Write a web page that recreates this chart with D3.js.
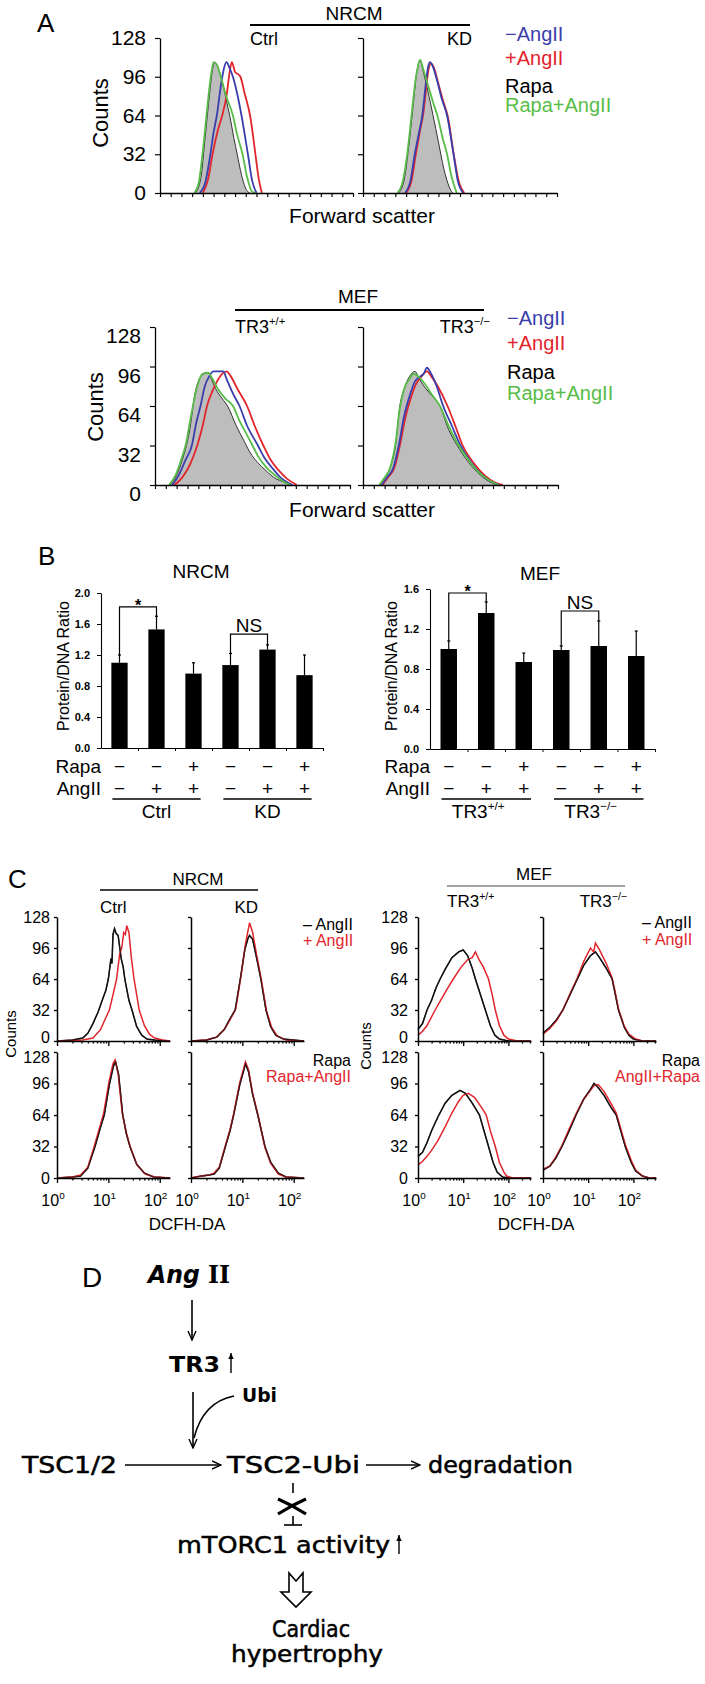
<!DOCTYPE html>
<html><head><meta charset="utf-8">
<script src="https://cdn.jsdelivr.net/npm/d3@7/dist/d3.min.js"></script>
<style>html,body{margin:0;padding:0;background:#fff;}svg{display:block;}</style>
</head><body>
<svg id="fig" width="705" height="1684"></svg>
<script>
// ================= DATA =================
// ---- Panel A: forward-scatter histograms (x = channel units 0..18, y = counts) ----
const countTicks = [0, 32, 64, 96, 128];
const aLegend = ["\u2212AngII", "+AngII", "Rapa", "Rapa+AngII"];

const aNrcmCtrlMinus = [[3.7,0],[4.2,8],[4.7,32],[5.0,50],[5.3,64],[5.7,90],[6.0,104],[6.2,108],[6.5,103],[6.8,96],[7.2,82],[7.6,64],[8.2,32],[8.6,10],[9.0,0]];
const aNrcmCtrlPlus = [[4.0,0],[4.5,12],[4.9,32],[5.4,52],[5.8,64],[6.2,80],[6.5,100],[6.7,108],[7.0,100],[7.3,98],[7.5,96],[7.9,82],[8.4,64],[8.9,32],[9.2,12],[9.5,0]];
const aNrcmCtrlRapa = [[3.3,0],[3.8,12],[4.2,45],[4.6,80],[4.9,102],[5.1,108],[5.4,104],[5.8,92],[6.2,76],[6.5,64],[6.9,45],[7.2,32],[7.6,15],[8.1,2],[8.4,0]];
const aNrcmCtrlRapaAng = [[3.2,0],[3.6,8],[4.0,35],[4.4,70],[4.8,100],[5.0,108],[5.3,106],[5.7,95],[6.1,82],[6.8,64],[7.2,48],[7.7,32],[8.1,14],[8.6,1],[8.9,0]];

const aNrcmKdMinus = [[3.9,0],[4.4,10],[4.8,32],[5.2,50],[5.5,64],[5.8,88],[6.0,102],[6.2,108],[6.5,104],[6.9,92],[7.3,78],[7.8,64],[8.4,32],[8.8,10],[9.3,0]];
const aNrcmKdPlus = [[4.0,0],[4.5,10],[4.9,32],[5.3,52],[5.6,66],[5.9,90],[6.1,103],[6.3,107],[6.6,103],[7.0,90],[7.4,77],[7.9,62],[8.4,33],[8.9,9],[9.4,0]];
const aNrcmKdRapa = [[3.3,0],[3.8,10],[4.2,35],[4.6,68],[5.0,100],[5.3,110],[5.6,100],[6.0,85],[6.5,64],[7.0,42],[7.5,20],[8.0,5],[8.3,0]];
const aNrcmKdRapaAng = [[3.2,0],[3.7,10],[4.1,32],[4.5,64],[4.9,95],[5.3,110],[5.6,102],[6.0,90],[6.5,75],[6.9,64],[7.4,45],[7.8,32],[8.2,14],[8.7,0]];

const aMefWtMinus = [[1.6,0],[2.2,8],[2.8,20],[3.4,32],[3.8,50],[4.2,64],[4.6,80],[5.0,88],[5.4,92],[5.8,92],[6.3,92],[6.6,86],[7.2,74],[7.8,64],[8.5,48],[9.5,32],[10.1,22],[10.8,14],[11.6,6],[12.7,0]];
const aMefWtPlus = [[1.8,0],[2.5,6],[3.2,16],[3.9,32],[4.4,48],[4.8,64],[5.3,76],[5.8,85],[6.2,90],[6.6,92],[7.0,88],[7.6,78],[8.5,64],[9.2,48],[10.0,32],[10.7,20],[11.4,12],[12.2,5],[13.1,0]];
const aMefWtRapa = [[1.4,0],[2.0,8],[2.5,20],[2.9,32],[3.3,50],[3.6,70],[4.0,84],[4.5,90],[4.9,91],[5.2,86],[5.6,78],[6.2,70],[6.7,64],[7.5,48],[8.2,36],[8.8,26],[9.5,18],[10.2,12],[11.0,6],[12.0,2],[12.5,0]];
const aMefWtRapaAng = [[1.3,0],[1.9,8],[2.4,20],[2.9,35],[3.2,50],[3.5,64],[3.9,80],[4.4,90],[4.9,91],[5.3,86],[5.8,78],[6.5,70],[7.2,64],[7.8,52],[8.4,42],[9.0,32],[9.6,22],[10.3,14],[11.2,7],[12.0,2],[12.5,0]];

const aMefKoMinus = [[1.7,0],[2.2,6],[2.8,14],[3.3,32],[3.8,56],[4.3,72],[4.8,84],[5.3,88],[5.6,90],[5.9,95],[6.3,90],[6.8,80],[7.4,64],[8.2,48],[9.0,32],[10.0,18],[11.0,8],[12.0,2],[12.6,0]];
const aMefKoPlus = [[1.8,0],[2.3,6],[2.9,14],[3.4,32],[3.9,54],[4.4,70],[4.9,82],[5.4,88],[5.9,92],[6.3,88],[6.9,80],[7.8,64],[8.6,46],[9.2,32],[10.2,18],[11.2,8],[12.2,2],[12.9,0]];
const aMefKoRapa = [[1.5,0],[2.0,6],[2.5,14],[3.0,32],[3.4,64],[3.8,78],[4.3,88],[4.8,92],[5.2,86],[5.8,78],[6.4,72],[7.1,64],[7.9,45],[8.7,32],[9.6,20],[10.6,10],[11.6,3],[12.4,0]];
const aMefKoRapaAng = [[1.5,0],[2.0,6],[2.5,14],[3.0,34],[3.4,62],[3.8,78],[4.3,86],[4.7,90],[5.1,88],[5.7,82],[6.3,74],[7.1,64],[7.9,48],[8.7,34],[9.6,22],[10.6,11],[11.6,4],[12.5,0]];

// ---- Panel B: Protein/DNA ratio bars ----
const bRapa  = ["\u2212","\u2212","+","\u2212","\u2212","+"];
const bAngII = ["\u2212","+","+","\u2212","+","+"];
const bNrcmTicks = [0.0, 0.4, 0.8, 1.2, 1.6, 2.0];
const bNrcmValues = [1.10, 1.53, 0.96, 1.07, 1.27, 0.94];
const bNrcmErrors = [0.10, 0.17, 0.14, 0.15, 0.06, 0.26];
const bMefTicks = [0.0, 0.4, 0.8, 1.2, 1.6];
const bMefValues = [1.00, 1.36, 0.87, 0.99, 1.03, 0.93];
const bMefErrors = [0.08, 0.11, 0.09, 0.04, 0.25, 0.25];

// ---- Panel C: DCFH-DA histograms (x = log10 fluorescence, y = counts) ----
const cNrcmCtrlMinus = [[0,0],[0.3,1],[0.5,3],[0.6,8],[0.7,18],[0.8,30],[0.9,45],[0.95,52],[1.0,64],[1.05,85],[1.07,80],[1.09,110],[1.12,116],[1.15,111],[1.19,109],[1.25,85],[1.29,76],[1.32,64],[1.4,42],[1.46,32],[1.55,15],[1.65,6],[1.75,2],[1.9,1],[2.2,0]];
const cNrcmCtrlPlus = [[0,0],[0.5,1],[0.7,3],[0.85,12],[0.95,24],[1.02,32],[1.1,50],[1.16,64],[1.22,90],[1.26,96],[1.3,112],[1.33,110],[1.36,119],[1.4,112],[1.45,85],[1.5,64],[1.56,45],[1.6,32],[1.7,16],[1.8,7],[1.9,3],[2.05,1],[2.2,0]];
const cNrcmKdMinus = [[0,0],[0.3,1],[0.5,4],[0.65,12],[0.75,22],[0.86,32],[0.96,64],[1.05,95],[1.11,106],[1.14,109],[1.2,105],[1.28,85],[1.36,64],[1.46,32],[1.55,15],[1.65,6],[1.8,2],[2.2,0]];
const cNrcmKdPlus = [[0,0],[0.3,1],[0.5,4],[0.65,12],[0.76,22],[0.87,33],[0.97,66],[1.06,100],[1.11,114],[1.14,122],[1.2,112],[1.28,88],[1.37,63],[1.47,31],[1.57,14],[1.68,5],[1.85,1],[2.2,0]];
const cNrcmCtrlRapa = [[0,0],[0.3,1],[0.46,2],[0.6,10],[0.74,32],[0.85,52],[0.92,64],[1.02,95],[1.1,114],[1.14,118],[1.2,105],[1.28,64],[1.35,45],[1.42,32],[1.55,14],[1.7,5],[1.88,1],[2.2,0]];
const cNrcmCtrlRapaAng = [[0,0],[0.3,1],[0.46,3],[0.6,11],[0.73,33],[0.84,53],[0.91,66],[1.01,97],[1.09,116],[1.13,120],[1.19,106],[1.27,66],[1.35,46],[1.43,31],[1.56,13],[1.72,4],[1.9,1],[2.2,0]];
const cNrcmKdRapa = [[0,0],[0.2,2],[0.35,3],[0.45,4],[0.55,10],[0.67,32],[0.76,48],[0.83,64],[0.95,95],[1.03,110],[1.06,116],[1.12,108],[1.2,85],[1.3,64],[1.44,32],[1.55,16],[1.7,5],[1.85,1],[2.2,0]];
const cNrcmKdRapaAng = [[0,0],[0.2,2],[0.35,3],[0.45,5],[0.55,11],[0.67,33],[0.76,49],[0.83,65],[0.95,97],[1.03,112],[1.06,118],[1.12,110],[1.2,86],[1.3,65],[1.44,31],[1.55,15],[1.7,4],[1.85,1],[2.2,0]];

const cMefWtMinus = [[0,12],[0.1,18],[0.2,32],[0.3,42],[0.4,55],[0.49,64],[0.6,74],[0.75,86],[0.9,92],[1.0,94],[1.1,88],[1.2,75],[1.27,64],[1.38,48],[1.49,32],[1.6,16],[1.7,6],[1.8,2],[2.0,0],[2.5,0]];
const cMefWtPlus = [[0,6],[0.1,10],[0.2,16],[0.38,32],[0.5,42],[0.65,54],[0.78,64],[0.95,76],[1.1,84],[1.2,86],[1.27,92],[1.35,84],[1.45,76],[1.56,64],[1.65,46],[1.71,32],[1.8,16],[1.9,6],[2.0,2],[2.2,0],[2.5,0]];
const cMefKoMinus = [[0,8],[0.15,14],[0.3,22],[0.44,32],[0.6,48],[0.76,64],[0.9,78],[1.05,88],[1.16,92],[1.25,86],[1.4,75],[1.53,64],[1.6,48],[1.67,32],[1.8,14],[1.9,6],[2.0,2],[2.2,0],[2.5,0]];
const cMefKoPlus = [[0,7],[0.15,13],[0.3,21],[0.44,32],[0.6,49],[0.76,65],[0.9,82],[1.05,96],[1.12,92],[1.16,101],[1.25,94],[1.4,80],[1.53,65],[1.6,50],[1.67,33],[1.8,15],[1.9,7],[2.05,2],[2.2,0],[2.5,0]];
const cMefWtRapa = [[0,22],[0.1,26],[0.2,36],[0.3,48],[0.44,62],[0.6,76],[0.75,84],[0.93,89],[1.05,86],[1.2,76],[1.36,64],[1.46,48],[1.56,32],[1.66,16],[1.75,6],[1.87,1],[2.0,0],[2.5,0]];
const cMefWtRapaAng = [[0,13],[0.1,17],[0.2,22],[0.3,28],[0.44,38],[0.6,52],[0.75,66],[0.9,78],[1.0,84],[1.11,86],[1.25,82],[1.4,72],[1.51,64],[1.6,48],[1.71,32],[1.8,16],[1.9,6],[1.96,2],[2.1,0],[2.5,0]];
const cMefKoRapa = [[0,8],[0.15,12],[0.28,20],[0.42,32],[0.58,48],[0.73,64],[0.9,80],[1.05,90],[1.13,96],[1.22,92],[1.35,84],[1.5,72],[1.62,64],[1.72,48],[1.82,32],[1.95,16],[2.05,7],[2.2,2],[2.35,0],[2.5,0]];
const cMefKoRapaAng = [[0,9],[0.15,12],[0.28,21],[0.42,33],[0.58,50],[0.73,65],[0.9,80],[1.05,89],[1.13,94],[1.22,95],[1.35,88],[1.5,76],[1.62,66],[1.72,50],[1.82,34],[1.95,18],[2.05,8],[2.2,2],[2.35,0],[2.5,0]];

// ================= STYLE =================
const F = "'Liberation Sans', Arial, Helvetica, sans-serif";
const FD = "'DejaVu Sans', sans-serif";
const colBlue = "#3a3eac", colRed = "#e2252c", colGreen = "#58bd48", colGrey = "#bdbdbd";

const svg = d3.select("#fig");
svg.append("rect").attr("width",705).attr("height",1684).attr("fill","#fff");

function T(g, x, y, s, size, o = {}) {
  const t = g.append("text").attr("x", x).attr("y", y)
    .attr("font-family", o.ff || F).attr("font-size", size)
    .attr("text-anchor", o.anchor || "start").attr("fill", o.fill || "#000")
    .attr("font-weight", o.w || "normal");
  if (o.rot) t.attr("transform", `rotate(-90,${x},${y})`);
  if (o.len) t.attr("textLength", o.len).attr("lengthAdjust", "spacingAndGlyphs");
  if (o.thick) t.attr("stroke", "#000").attr("stroke-width", o.thick);
  t.text(s);
  return t;
}
function supT(g, x, y, base, sup, size, o = {}) {
  const t = g.append("text").attr("x", x).attr("y", y).attr("font-family", F)
    .attr("font-size", size).attr("text-anchor", o.anchor || "start").attr("fill", o.fill || "#000");
  t.append("tspan").text(base);
  t.append("tspan").attr("font-size", size * 0.62).attr("dy", -size * 0.42).text(sup);
  return t;
}
function HL(g, x1, x2, y, w = 1.5, c = "#000") {
  g.append("line").attr("x1", x1).attr("x2", x2).attr("y1", y).attr("y2", y).attr("stroke", c).attr("stroke-width", w);
}
function styleAxis(a, fs, w = 1.3) {
  a.select(".domain").attr("stroke", "#000").attr("stroke-width", w);
  a.selectAll(".tick line").attr("stroke", "#000").attr("stroke-width", w * 0.9);
  a.selectAll("text").attr("font-family", F).attr("font-size", fs).attr("fill", "#000");
}

// ================= PANEL A =================
function histA(p) {
  const g = svg.append("g");
  const x = d3.scaleLinear().domain([0, 18]).range([p.x0, p.x1]);
  const y = d3.scaleLinear().domain([0, 128]).range([p.yb, p.yt]);
  const area = d3.area().x(d => x(d[0])).y0(y(0)).y1(d => y(d[1])).curve(d3.curveMonotoneX);
  const line = d3.line().x(d => x(d[0])).y(d => y(d[1])).curve(d3.curveMonotoneX);
  g.append("path").attr("d", area(p.rapa)).attr("fill", colGrey);
  g.append("path").attr("d", line(p.rapa)).attr("fill", "none").attr("stroke", "#333").attr("stroke-width", 1);
  [[p.plus, colRed], [p.minus, colBlue], [p.rapaAng, colGreen]].forEach(([d, c]) =>
    g.append("path").attr("d", line(d)).attr("fill", "none").attr("stroke", c).attr("stroke-width", 1.8));
  const xa = g.append("g").attr("transform", `translate(0,${p.yb})`)
    .call(d3.axisBottom(x).tickValues(d3.range(0, 19)).tickSize(4).tickSizeOuter(0).tickFormat(""));
  const ya = g.append("g").attr("transform", `translate(${p.x0},0)`)
    .call(d3.axisLeft(y).tickValues(countTicks).tickSize(5).tickSizeOuter(0).tickPadding(9)
      .tickFormat(p.labels ? d3.format("d") : ""));
  styleAxis(xa, 21); styleAxis(ya, 21);
  if (p.labels && p.labelDy) ya.selectAll("text").attr("y", p.labelDy);
}
function legendA(x, ys) {
  const cols = [colBlue, colRed, "#000", colGreen];
  aLegend.forEach((s, i) => T(svg, x, ys[i], s, 20, { fill: cols[i] }));
}

// Top: NRCM
T(svg, 37, 32, "A", 26);
T(svg, 354, 20, "NRCM", 19, { anchor: "middle" });
HL(svg, 250, 470, 25, 2);
T(svg, 250, 45, "Ctrl", 18);
T(svg, 472, 45, "KD", 18, { anchor: "end" });
histA({ x0: 160, x1: 353, yt: 38, yb: 193, labels: true, minus: aNrcmCtrlMinus, plus: aNrcmCtrlPlus, rapa: aNrcmCtrlRapa, rapaAng: aNrcmCtrlRapaAng });
histA({ x0: 363, x1: 557, yt: 38, yb: 193, labels: false, minus: aNrcmKdMinus, plus: aNrcmKdPlus, rapa: aNrcmKdRapa, rapaAng: aNrcmKdRapaAng });
T(svg, 108, 113, "Counts", 22, { anchor: "middle", rot: true });
T(svg, 362, 223, "Forward scatter", 21, { anchor: "middle" });
legendA(505, [41, 65, 93, 112]);

// Bottom: MEF
T(svg, 358, 303, "MEF", 19, { anchor: "middle" });
HL(svg, 235, 484, 310, 2);
supT(svg, 235, 333, "TR3", "+/+", 18);
supT(svg, 490, 333, "TR3", "\u2212/\u2212", 18, { anchor: "end" });
histA({ x0: 155, x1: 350, yt: 327, yb: 485, labels: true, labelDy: 9, minus: aMefWtMinus, plus: aMefWtPlus, rapa: aMefWtRapa, rapaAng: aMefWtRapaAng });
histA({ x0: 363, x1: 558, yt: 327, yb: 485, labels: false, minus: aMefKoMinus, plus: aMefKoPlus, rapa: aMefKoRapa, rapaAng: aMefKoRapaAng });
T(svg, 103, 407, "Counts", 22, { anchor: "middle", rot: true });
T(svg, 362, 517, "Forward scatter", 21, { anchor: "middle" });
legendA(507, [325, 350, 379, 400]);

// ================= PANEL B =================
function barsB(p) {
  const g = svg.append("g");
  const x = d3.scaleBand().domain(d3.range(6)).range([p.x0, p.x1]).paddingInner(0.56).paddingOuter(0.28);
  const y = d3.scaleLinear().domain([0, p.max]).range([p.yb, p.yt]);
  const cx = i => x(i) + x.bandwidth() / 2;
  g.selectAll("rect.bar").data(p.values).join("rect")
    .attr("x", (d, i) => x(i)).attr("width", x.bandwidth())
    .attr("y", d => y(d)).attr("height", d => y(0) - y(d)).attr("fill", "#000");
  p.values.forEach((v, i) => {
    const top = y(v + p.errors[i]);
    g.append("line").attr("x1", cx(i)).attr("x2", cx(i)).attr("y1", y(v)).attr("y2", top).attr("stroke", "#000").attr("stroke-width", 1.2);
    g.append("line").attr("x1", cx(i) - 1.5).attr("x2", cx(i) + 1.5).attr("y1", top).attr("y2", top).attr("stroke", "#000").attr("stroke-width", 1.2);
  });
  const ya = g.append("g").attr("transform", `translate(${p.x0},0)`)
    .call(d3.axisLeft(y).tickValues(p.ticks).tickSize(4).tickSizeOuter(0).tickPadding(7).tickFormat(d3.format(".1f")));
  styleAxis(ya, 11, 1.1);
  ya.selectAll("text").attr("font-weight", "bold");
  const xa = g.append("g").attr("transform", `translate(0,${p.yb})`)
    .call(d3.axisBottom(d3.scaleLinear().domain([0, 6]).range([p.x0, p.x1])).tickValues(d3.range(1, 7)).tickSize(3).tickSizeOuter(0).tickFormat(""));
  styleAxis(xa, 11, 1.1);
  p.brackets.forEach(b => {
    const yb = y(b.level);
    const path = d3.path();
    path.moveTo(cx(b.i), y(p.values[b.i] + p.errors[b.i]));
    path.lineTo(cx(b.i), yb); path.lineTo(cx(b.j), yb);
    path.lineTo(cx(b.j), y(p.values[b.j] + p.errors[b.j]));
    g.append("path").attr("d", path.toString()).attr("fill", "none").attr("stroke", "#000").attr("stroke-width", 1.2);
    const mx = (cx(b.i) + cx(b.j)) / 2;
    if (b.label === "*") T(g, mx, yb + 4, "*", 16, { anchor: "middle", w: "bold" });
    else T(g, mx, yb - 2, b.label, 19, { anchor: "middle" });
  });
  T(g, p.titleX, p.titleY, p.title, 19, { anchor: "middle" });
  T(g, p.ylabX, 666, "Protein/DNA Ratio", 16, { anchor: "middle", rot: true });
  T(g, p.x0, 773, "Rapa", 19, { anchor: "end" });
  T(g, p.x0, 795, "AngII", 19, { anchor: "end" });
  bRapa.forEach((s, i) => T(g, cx(i), 773, s, 19, { anchor: "middle" }));
  bAngII.forEach((s, i) => T(g, cx(i), 795, s, 19, { anchor: "middle" }));
  p.groups.forEach((gr, k) => {
    const a = x(k * 3), bnd = x(k * 3 + 2) + x.bandwidth();
    HL(g, a + 1, bnd - 1, 799, 1.3);
    if (gr.sup) supT(g, (a + bnd) / 2 - 8, 818, gr.base, gr.sup, 19, { anchor: "middle" });
    else T(g, (a + bnd) / 2, 818, gr.base, 19, { anchor: "middle" });
  });
}
T(svg, 38, 565, "B", 26);
barsB({ x0: 101, x1: 323, yt: 593, yb: 748, max: 2.0, ticks: bNrcmTicks, values: bNrcmValues, errors: bNrcmErrors,
  brackets: [{ i: 0, j: 1, level: 1.82, label: "*" }, { i: 3, j: 4, level: 1.47, label: "NS" }],
  title: "NRCM", titleX: 201, titleY: 578, ylabX: 69,
  groups: [{ base: "Ctrl" }, { base: "KD" }] });
barsB({ x0: 430, x1: 655, yt: 589, yb: 749, max: 1.6, ticks: bMefTicks, values: bMefValues, errors: bMefErrors,
  brackets: [{ i: 0, j: 1, level: 1.56, label: "*" }, { i: 3, j: 4, level: 1.38, label: "NS" }],
  title: "MEF", titleX: 540, titleY: 580, ylabX: 397,
  groups: [{ base: "TR3", sup: "+/+" }, { base: "TR3", sup: "\u2212/\u2212" }] });

// ================= PANEL C =================
function flowC(p) {
  const g = svg.append("g");
  const x = d3.scaleLog().domain([1, Math.pow(10, p.dec)]).range([p.x0, p.x1]);
  const y = d3.scaleLinear().domain([0, 128]).range([p.yb, p.yt]);
  const line = d3.line().x(d => x(Math.pow(10, d[0]))).y(d => y(d[1]));
  g.append("path").attr("d", line(p.black)).attr("fill", "none").attr("stroke", "#111").attr("stroke-width", 1.5);
  g.append("path").attr("d", line(p.red)).attr("fill", "none").attr("stroke", colRed).attr("stroke-width", 1.5);
  g.append("path").attr("d", line(p.black)).attr("fill", "none").attr("stroke", "#111").attr("stroke-width", 1.2).attr("stroke-opacity", 0.7);
  const tv = [];
  for (let e = 0; e < 3; e++) for (let k = 1; k < 10; k++) { const v = k * Math.pow(10, e); if (v <= Math.pow(10, p.dec)) tv.push(v); }
  const xa = g.append("g").attr("transform", `translate(0,${p.yb})`)
    .call(d3.axisBottom(x).tickValues(tv).tickSize(3).tickSizeOuter(0).tickFormat(""));
  xa.selectAll(".tick line").attr("y2", d => [1, 10, 100].includes(d) ? 5 : 2.5);
  const ya = g.append("g").attr("transform", `translate(${p.x0},0)`)
    .call(d3.axisLeft(y).tickValues(countTicks).tickSize(3).tickSizeOuter(0).tickPadding(p.pad || 5)
      .tickFormat(p.ylabels ? d3.format("d") : ""));
  styleAxis(xa, 16, 1.5); styleAxis(ya, 16, 1.5);
  if (p.ylabels) ya.selectAll(".tick text").attr("y", d => (p.row === "top" && d === 0) ? -4 : (p.row === "bot" && d === 128) ? 5 : 0);
  if (p.xlabels) [0, 1, 2].forEach(e => supT(g, x(Math.pow(10, e)) - 4, p.yb + 28, "10", String(e), 16, { anchor: "middle" }));
}
T(svg, 8, 888, "C", 26);
T(svg, 198, 885, "NRCM", 17, { anchor: "middle" });
HL(svg, 100, 258, 890, 1.4);
T(svg, 100, 913, "Ctrl", 17);
T(svg, 258, 913, "KD", 17, { anchor: "end" });
T(svg, 534, 880, "MEF", 17, { anchor: "middle" });
HL(svg, 447, 625, 886, 1, "#444");
supT(svg, 447, 907, "TR3", "+/+", 17);
supT(svg, 627, 907, "TR3", "\u2212/\u2212", 17, { anchor: "end" });

const cTop = { yt: 917, yb: 1041, row: "top" }, cBot = { yt: 1052, yb: 1178, row: "bot" };
flowC({ x0: 57, x1: 170, dec: 2.2, ...cTop, ylabels: true, pad: 4, black: cNrcmCtrlMinus, red: cNrcmCtrlPlus });
flowC({ x0: 191, x1: 304, dec: 2.2, ...cTop, black: cNrcmKdMinus, red: cNrcmKdPlus });
flowC({ x0: 57, x1: 170, dec: 2.2, ...cBot, ylabels: true, pad: 4, xlabels: true, black: cNrcmCtrlRapa, red: cNrcmCtrlRapaAng });
flowC({ x0: 191, x1: 304, dec: 2.2, ...cBot, xlabels: true, black: cNrcmKdRapa, red: cNrcmKdRapaAng });
flowC({ x0: 418, x1: 531, dec: 2.5, ...cTop, ylabels: true, pad: 7, black: cMefWtMinus, red: cMefWtPlus });
flowC({ x0: 543, x1: 656, dec: 2.5, ...cTop, black: cMefKoMinus, red: cMefKoPlus });
flowC({ x0: 418, x1: 531, dec: 2.5, ...cBot, ylabels: true, pad: 7, xlabels: true, black: cMefWtRapa, red: cMefWtRapaAng });
flowC({ x0: 543, x1: 656, dec: 2.5, ...cBot, xlabels: true, black: cMefKoRapa, red: cMefKoRapaAng });

T(svg, 16, 1034, "Counts", 15, { anchor: "middle", rot: true });
T(svg, 371, 1046, "Counts", 15, { anchor: "middle", rot: true });
T(svg, 187, 1230, "DCFH-DA", 17, { anchor: "middle" });
T(svg, 536, 1230, "DCFH-DA", 17, { anchor: "middle" });
T(svg, 303, 930, "\u2013 AngII", 16);
T(svg, 303, 946, "+ AngII", 16, { fill: colRed });
T(svg, 642, 928, "\u2013 AngII", 16);
T(svg, 642, 945, "+ AngII", 16, { fill: colRed });
T(svg, 351, 1066, "Rapa", 16, { anchor: "end" });
T(svg, 351, 1082, "Rapa+AngII", 16, { anchor: "end", fill: colRed });
T(svg, 700, 1066, "Rapa", 16, { anchor: "end" });
T(svg, 700, 1082, "AngII+Rapa", 16, { anchor: "end", fill: colRed });

// ================= PANEL D =================
const defs = svg.append("defs");
defs.append("marker").attr("id", "arr").attr("viewBox", "0 -5 10 10").attr("refX", 9).attr("refY", 0)
  .attr("markerWidth", 10).attr("markerHeight", 10).attr("markerUnits", "userSpaceOnUse").attr("orient", "auto")
  .append("path").attr("d", "M0,-4L9,0L0,4").attr("fill", "none").attr("stroke", "#000").attr("stroke-width", 1.4);
defs.append("marker").attr("id", "arrS").attr("viewBox", "0 -5 10 10").attr("refX", 9).attr("refY", 0)
  .attr("markerWidth", 7).attr("markerHeight", 7).attr("markerUnits", "userSpaceOnUse").attr("orient", "auto")
  .append("path").attr("d", "M0,-4L9,0L0,4Z").attr("fill", "#000");
function arrow(x1, y1, x2, y2, m = "arr", w = 1.6) {
  svg.append("line").attr("x1", x1).attr("y1", y1).attr("x2", x2).attr("y2", y2)
    .attr("stroke", "#000").attr("stroke-width", w).attr("marker-end", `url(#${m})`);
}
T(svg, 82, 1287, "D", 28);
const ang = svg.append("text").attr("x", 148).attr("y", 1283).attr("font-family", FD).attr("font-size", 25).attr("font-weight", "bold")
  .attr("textLength", 82).attr("lengthAdjust", "spacingAndGlyphs");
ang.append("tspan").attr("font-style", "italic").text("Ang");
ang.append("tspan").attr("font-family", "'DejaVu Serif', serif").text(" II");
arrow(192, 1300, 192, 1340);
T(svg, 169, 1372, "TR3", 22, { ff: FD, w: "bold", len: 51 });
arrow(231, 1373, 231, 1353, "arrS", 1.4);
arrow(193, 1392, 193, 1448);
svg.append("path").attr("d", "M234,1396 Q203,1402 194,1438").attr("fill", "none").attr("stroke", "#000").attr("stroke-width", 1.6);
T(svg, 242, 1402, "Ubi", 20, { ff: FD, w: "bold", len: 35 });
T(svg, 22, 1473, "TSC1/2", 23, { ff: FD, len: 95, thick: 0.5 });
arrow(125, 1465, 221, 1465);
T(svg, 227, 1473, "TSC2-Ubi", 23, { ff: FD, len: 133, thick: 0.5 });
arrow(366, 1465, 420, 1465);
T(svg, 428, 1473, "degradation", 23, { ff: FD, len: 145, thick: 0.5 });
svg.append("line").attr("x1", 293).attr("x2", 293).attr("y1", 1483).attr("y2", 1493).attr("stroke", "#000").attr("stroke-width", 1.6);
svg.append("path").attr("d", "M278,1499 Q292,1505 306,1514 M278,1514 Q292,1505 306,1499").attr("fill", "none").attr("stroke", "#000").attr("stroke-width", 3.2);
svg.append("line").attr("x1", 293).attr("x2", 293).attr("y1", 1516).attr("y2", 1525).attr("stroke", "#000").attr("stroke-width", 1.6);
HL(svg, 284, 302, 1525, 1.6);
T(svg, 177, 1553, "mTORC1 activity", 23, { ff: FD, len: 213, thick: 0.5 });
arrow(399, 1554, 399, 1535, "arrS", 1.4);
svg.append("path").attr("d", "M289,1573 L296,1581 L303,1573 L303,1592 L311,1592 L296,1607 L281,1592 L289,1592 Z")
  .attr("fill", "#fff").attr("stroke", "#000").attr("stroke-width", 1.6).attr("stroke-linejoin", "miter");
T(svg, 311, 1637, "Cardiac", 23, { ff: FD, anchor: "middle", len: 78, thick: 0.5 });
T(svg, 307, 1662, "hypertrophy", 23, { ff: FD, anchor: "middle", len: 152, thick: 0.5 });
</script>
</body></html>
